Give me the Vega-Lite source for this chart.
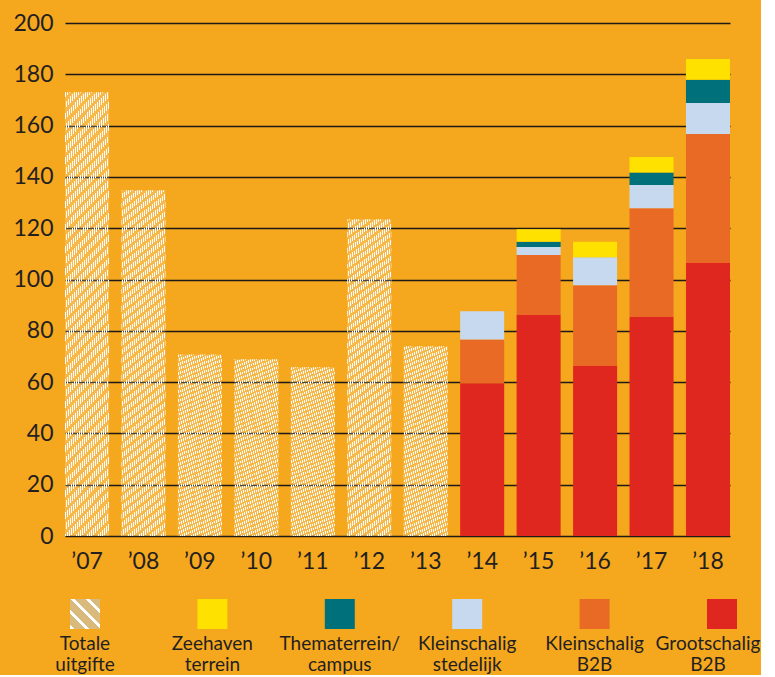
{
"$schema": "https://vega.github.io/schema/vega-lite/v6.json",
"background": "#F5A71E",
"padding": {"left": 5, "top": 12, "right": 0, "bottom": 0},
"spacing": 26,
"params": [{"name": "hs", "value": [
{"offset":0,"color":"#fff"},{"offset":0.0077,"color":"#fff"},{"offset":0.0077,"color":"#fff3"},{"offset":0.025,"color":"#fff3"},
{"offset":0.025,"color":"#fff"},{"offset":0.0327,"color":"#fff"},{"offset":0.0327,"color":"#fff3"},{"offset":0.05,"color":"#fff3"},
{"offset":0.05,"color":"#fff"},{"offset":0.0577,"color":"#fff"},{"offset":0.0577,"color":"#fff3"},{"offset":0.075,"color":"#fff3"},
{"offset":0.075,"color":"#fff"},{"offset":0.0827,"color":"#fff"},{"offset":0.0827,"color":"#fff3"},{"offset":0.1,"color":"#fff3"},
{"offset":0.1,"color":"#fff"},{"offset":0.1077,"color":"#fff"},{"offset":0.1077,"color":"#fff3"},{"offset":0.125,"color":"#fff3"},
{"offset":0.125,"color":"#fff"},{"offset":0.1327,"color":"#fff"},{"offset":0.1327,"color":"#fff3"},{"offset":0.15,"color":"#fff3"},
{"offset":0.15,"color":"#fff"},{"offset":0.1577,"color":"#fff"},{"offset":0.1577,"color":"#fff3"},{"offset":0.175,"color":"#fff3"},
{"offset":0.175,"color":"#fff"},{"offset":0.1827,"color":"#fff"},{"offset":0.1827,"color":"#fff3"},{"offset":0.2,"color":"#fff3"},
{"offset":0.2,"color":"#fff"},{"offset":0.2077,"color":"#fff"},{"offset":0.2077,"color":"#fff3"},{"offset":0.225,"color":"#fff3"},
{"offset":0.225,"color":"#fff"},{"offset":0.2327,"color":"#fff"},{"offset":0.2327,"color":"#fff3"},{"offset":0.25,"color":"#fff3"},
{"offset":0.25,"color":"#fff"},{"offset":0.2577,"color":"#fff"},{"offset":0.2577,"color":"#fff3"},{"offset":0.275,"color":"#fff3"},
{"offset":0.275,"color":"#fff"},{"offset":0.2827,"color":"#fff"},{"offset":0.2827,"color":"#fff3"},{"offset":0.3,"color":"#fff3"},
{"offset":0.3,"color":"#fff"},{"offset":0.3077,"color":"#fff"},{"offset":0.3077,"color":"#fff3"},{"offset":0.325,"color":"#fff3"},
{"offset":0.325,"color":"#fff"},{"offset":0.3327,"color":"#fff"},{"offset":0.3327,"color":"#fff3"},{"offset":0.35,"color":"#fff3"},
{"offset":0.35,"color":"#fff"},{"offset":0.3577,"color":"#fff"},{"offset":0.3577,"color":"#fff3"},{"offset":0.375,"color":"#fff3"},
{"offset":0.375,"color":"#fff"},{"offset":0.3827,"color":"#fff"},{"offset":0.3827,"color":"#fff3"},{"offset":0.4,"color":"#fff3"},
{"offset":0.4,"color":"#fff"},{"offset":0.4077,"color":"#fff"},{"offset":0.4077,"color":"#fff3"},{"offset":0.425,"color":"#fff3"},
{"offset":0.425,"color":"#fff"},{"offset":0.4327,"color":"#fff"},{"offset":0.4327,"color":"#fff3"},{"offset":0.45,"color":"#fff3"},
{"offset":0.45,"color":"#fff"},{"offset":0.4577,"color":"#fff"},{"offset":0.4577,"color":"#fff3"},{"offset":0.475,"color":"#fff3"},
{"offset":0.475,"color":"#fff"},{"offset":0.4827,"color":"#fff"},{"offset":0.4827,"color":"#fff3"},{"offset":0.5,"color":"#fff3"},
{"offset":0.5,"color":"#fff"},{"offset":0.5077,"color":"#fff"},{"offset":0.5077,"color":"#fff3"},{"offset":0.525,"color":"#fff3"},
{"offset":0.525,"color":"#fff"},{"offset":0.5327,"color":"#fff"},{"offset":0.5327,"color":"#fff3"},{"offset":0.55,"color":"#fff3"},
{"offset":0.55,"color":"#fff"},{"offset":0.5577,"color":"#fff"},{"offset":0.5577,"color":"#fff3"},{"offset":0.575,"color":"#fff3"},
{"offset":0.575,"color":"#fff"},{"offset":0.5827,"color":"#fff"},{"offset":0.5827,"color":"#fff3"},{"offset":0.6,"color":"#fff3"},
{"offset":0.6,"color":"#fff"},{"offset":0.6077,"color":"#fff"},{"offset":0.6077,"color":"#fff3"},{"offset":0.625,"color":"#fff3"},
{"offset":0.625,"color":"#fff"},{"offset":0.6327,"color":"#fff"},{"offset":0.6327,"color":"#fff3"},{"offset":0.65,"color":"#fff3"},
{"offset":0.65,"color":"#fff"},{"offset":0.6577,"color":"#fff"},{"offset":0.6577,"color":"#fff3"},{"offset":0.675,"color":"#fff3"},
{"offset":0.675,"color":"#fff"},{"offset":0.6827,"color":"#fff"},{"offset":0.6827,"color":"#fff3"},{"offset":0.7,"color":"#fff3"},
{"offset":0.7,"color":"#fff"},{"offset":0.7077,"color":"#fff"},{"offset":0.7077,"color":"#fff3"},{"offset":0.725,"color":"#fff3"},
{"offset":0.725,"color":"#fff"},{"offset":0.7327,"color":"#fff"},{"offset":0.7327,"color":"#fff3"},{"offset":0.75,"color":"#fff3"},
{"offset":0.75,"color":"#fff"},{"offset":0.7577,"color":"#fff"},{"offset":0.7577,"color":"#fff3"},{"offset":0.775,"color":"#fff3"},
{"offset":0.775,"color":"#fff"},{"offset":0.7827,"color":"#fff"},{"offset":0.7827,"color":"#fff3"},{"offset":0.8,"color":"#fff3"},
{"offset":0.8,"color":"#fff"},{"offset":0.8077,"color":"#fff"},{"offset":0.8077,"color":"#fff3"},{"offset":0.825,"color":"#fff3"},
{"offset":0.825,"color":"#fff"},{"offset":0.8327,"color":"#fff"},{"offset":0.8327,"color":"#fff3"},{"offset":0.85,"color":"#fff3"},
{"offset":0.85,"color":"#fff"},{"offset":0.8577,"color":"#fff"},{"offset":0.8577,"color":"#fff3"},{"offset":0.875,"color":"#fff3"},
{"offset":0.875,"color":"#fff"},{"offset":0.8827,"color":"#fff"},{"offset":0.8827,"color":"#fff3"},{"offset":0.9,"color":"#fff3"},
{"offset":0.9,"color":"#fff"},{"offset":0.9077,"color":"#fff"},{"offset":0.9077,"color":"#fff3"},{"offset":0.925,"color":"#fff3"},
{"offset":0.925,"color":"#fff"},{"offset":0.9327,"color":"#fff"},{"offset":0.9327,"color":"#fff3"},{"offset":0.95,"color":"#fff3"},
{"offset":0.95,"color":"#fff"},{"offset":0.9577,"color":"#fff"},{"offset":0.9577,"color":"#fff3"},{"offset":0.975,"color":"#fff3"},
{"offset":0.975,"color":"#fff"},{"offset":0.9827,"color":"#fff"},{"offset":0.9827,"color":"#fff3"},{"offset":1,"color":"#fff3"}
]}],
"datasets": {
"totals": [
{"year":"’07","total":173.0},{"year":"’08","total":134.8},{"year":"’09","total":70.8},{"year":"’10","total":68.9},
{"year":"’11","total":65.8},{"year":"’12","total":123.5},{"year":"’13","total":74.0}
],
"segments": [
{"year":"’14","cat":"Grootschalig B2B","value":59.6},{"year":"’14","cat":"Kleinschalig B2B","value":17.0},{"year":"’14","cat":"Kleinschalig stedelijk","value":11.0},
{"year":"’15","cat":"Grootschalig B2B","value":86.4},{"year":"’15","cat":"Kleinschalig B2B","value":23.2},{"year":"’15","cat":"Kleinschalig stedelijk","value":3.1},{"year":"’15","cat":"Thematerrein/campus","value":2.0},{"year":"’15","cat":"Zeehaven terrein","value":4.9},
{"year":"’16","cat":"Grootschalig B2B","value":66.5},{"year":"’16","cat":"Kleinschalig B2B","value":31.3},{"year":"’16","cat":"Kleinschalig stedelijk","value":10.9},{"year":"’16","cat":"Zeehaven terrein","value":6.0},
{"year":"’17","cat":"Grootschalig B2B","value":85.4},{"year":"’17","cat":"Kleinschalig B2B","value":42.4},{"year":"’17","cat":"Kleinschalig stedelijk","value":9.0},{"year":"’17","cat":"Thematerrein/campus","value":4.9},{"year":"’17","cat":"Zeehaven terrein","value":6.1},
{"year":"’18","cat":"Grootschalig B2B","value":106.6},{"year":"’18","cat":"Kleinschalig B2B","value":50.1},{"year":"’18","cat":"Kleinschalig stedelijk","value":12.1},{"year":"’18","cat":"Thematerrein/campus","value":9.1},{"year":"’18","cat":"Zeehaven terrein","value":8.1}
],
"legend": [
{"cat":"Totale uitgifte","label":"Totale\nuitgifte"},
{"cat":"Zeehaven terrein","label":"Zeehaven\nterrein"},
{"cat":"Thematerrein/campus","label":"Thematerrein/\ncampus"},
{"cat":"Kleinschalig stedelijk","label":"Kleinschalig\nstedelijk"},
{"cat":"Kleinschalig B2B","label":"Kleinschalig\nB2B"},
{"cat":"Grootschalig B2B","label":"Grootschalig\nB2B"}
]
},
"config": {"view": {"stroke": null}, "font": "Lato"},
"vconcat": [
{
"width": 665, "height": 513,
"layer": [
{
"data": {"name": "totals"},
"mark": {"type": "bar", "fill": {"expr": "{gradient:'linear',x1:0,y1:1,x2:600*bandwidth('x')/(pow(bandwidth('x'),2)+pow(scale('y',0)-scale('y',datum.total),2)),y2:1-600*(scale('y',0)-scale('y',datum.total))/(pow(bandwidth('x'),2)+pow(scale('y',0)-scale('y',datum.total),2)),stops:hs}"}},
"encoding": {
"x": {"field": "year", "type": "ordinal", "scale": {"domain": ["’07","’08","’09","’10","’11","’12","’13","’14","’15","’16","’17","’18"], "paddingInner": 0.22, "paddingOuter": 0}, "axis": {"title": null, "domain": false, "ticks": false, "labelAngle": 0, "labelFontSize": 23, "labelPadding": 14, "labelColor": "#231F20", "labelFont": "Lato"}},
"y": {"field": "total", "type": "quantitative", "scale": {"domain": [0, 200]}, "axis": {"title": null, "values": [0,20,40,60,80,100,120,140,160,180,200], "domain": false, "ticks": false, "labelFontSize": 23, "labelPadding": 12, "labelColor": "#231F20", "labelFont": "Lato", "gridColor": "#1E1A17", "gridWidth": 1.6, "gridOpacity": 1, "minExtent": 60, "maxExtent": 60}}
}
},
{
"data": {"name": "segments"},
"mark": {"type": "bar"},
"encoding": {
"x": {"field": "year", "type": "ordinal", "axis": {"title": null}},
"y": {"field": "value", "type": "quantitative", "stack": "zero", "axis": {"title": null}},
"color": {"field": "cat", "type": "nominal", "legend": null, "scale": {"domain": ["Totale uitgifte","Zeehaven terrein","Thematerrein/campus","Kleinschalig stedelijk","Kleinschalig B2B","Grootschalig B2B"], "range": ["#D0A95C","#FFE100","#00717B","#C7D9EF","#E96A25","#E0271F"]}},
"order": {"field": "cat", "type": "nominal", "sort": "ascending"}
}
}
]
},
{
"width": 665, "height": 30,
"data": {"name": "legend"},
"encoding": {
"x": {"field": "cat", "type": "nominal", "axis": null, "scale": {"type": "point", "domain": ["Totale uitgifte","Zeehaven terrein","Thematerrein/campus","Kleinschalig stedelijk","Kleinschalig B2B","Grootschalig B2B"], "padding": 0.11, "align": 0.714}}
},
"layer": [
{"mark": {"type": "square", "size": 900, "opacity": 1, "filled": true}, "encoding": {"color": {"field": "cat", "type": "nominal", "legend": null}}},
{"transform": [{"filter": "datum.cat == 'Totale uitgifte'"}], "mark": {"type": "square", "size": 900, "opacity": 1, "filled": true, "fill": {"expr": "{gradient:'linear',x1:0,y1:1,x2:10,y2:-9,stops:hs}"}}},
{"mark": {"type": "text", "baseline": "top", "dy": 21, "dx": {"expr": "datum.cat == 'Grootschalig B2B' ? -14 : 0"}, "lineBreak": "\n", "fontSize": 19, "lineHeight": 21, "color": "#231F20", "font": "Lato"}, "encoding": {"text": {"field": "label"}}}
]
}
]
}
